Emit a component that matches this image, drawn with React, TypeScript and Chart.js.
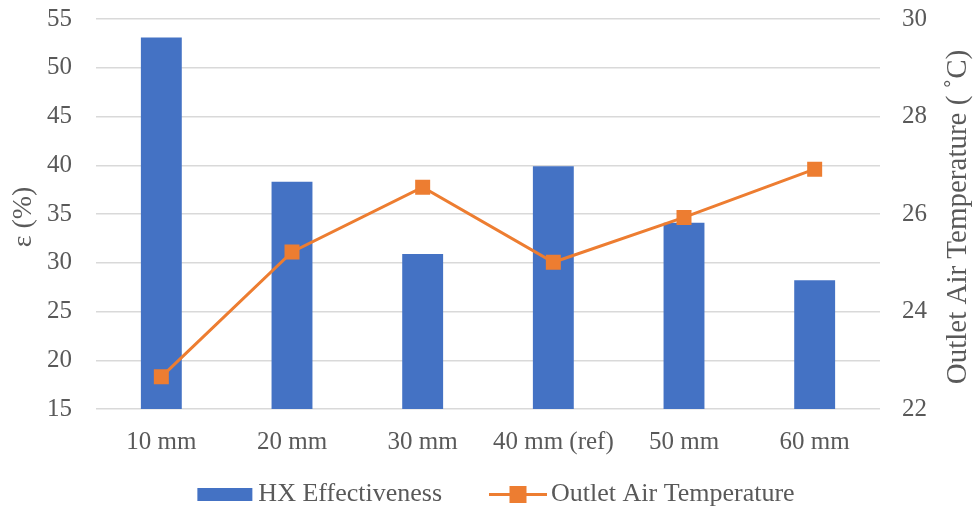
import React, { useEffect, useRef } from "react";
import { Chart, registerables } from "chart.js";

Chart.register(...registerables);

const categories = ["10 mm", "20 mm", "30 mm", "40 mm (ref)", "50 mm", "60 mm"];
const effectiveness = [53.1, 38.3, 30.9, 39.9, 34.1, 28.2];
const outletTemp = [22.66, 25.22, 26.55, 25.01, 25.93, 26.92];
const leftTicks = [15, 20, 25, 30, 35, 40, 45, 50, 55];
const rightTicks = [22, 24, 26, 28, 30];

const BLUE = "#4472C4";
const ORANGE = "#ED7D31";
const TEXT = "#595959";
const GRID = "#D9D9D9";
const FONT = "'Liberation Serif', 'Times New Roman', serif";
const FS = 25;
const TITLE_FS = 28;
const LEG_FS = 26;

const customPlugin = {
  id: "customDecor",
  afterDraw(chart: any) {
    const ctx = chart.ctx;
    const area = chart.chartArea;
    const cy = (area.top + area.bottom) / 2;
    ctx.save();
    ctx.fillStyle = TEXT;
    ctx.font = `${TITLE_FS}px ${FONT}`;
    ctx.textAlign = "center";
    ctx.textBaseline = "middle";
    // left title
    ctx.save();
    ctx.translate(24, cy + 3);
    ctx.rotate(-Math.PI / 2);
    ctx.fillText("ε (%)", 0, 0);
    ctx.restore();
    // right title
    ctx.save();
    ctx.font = `${TITLE_FS + 1}px ${FONT}`;
    ctx.translate(958, 217);
    ctx.rotate(-Math.PI / 2);
    ctx.fillText("Outlet Air Temperature ( ˚C)", 0, 0);
    ctx.restore();

    // legend
    ctx.font = `${LEG_FS}px ${FONT}`;
    const t1 = "HX Effectiveness";
    const t2 = "Outlet Air Temperature";
    const w1 = ctx.measureText(t1).width;
    const w2 = ctx.measureText(t2).width;
    const sym1 = 55;
    const sym2 = 58;
    const total = sym1 + 6 + w1 + 47 + sym2 + 4 + w2;
    let x = 496 - total / 2;
    const ly = 494.5;
    ctx.fillStyle = BLUE;
    ctx.fillRect(x, ly - 6.5, sym1, 13);
    x += sym1 + 6;
    ctx.fillStyle = TEXT;
    ctx.textAlign = "left";
    ctx.fillText(t1, x, ly);
    x += w1 + 47;
    ctx.strokeStyle = ORANGE;
    ctx.lineWidth = 3;
    ctx.beginPath();
    ctx.moveTo(x, ly);
    ctx.lineTo(x + sym2, ly);
    ctx.stroke();
    ctx.fillStyle = ORANGE;
    ctx.fillRect(x + sym2 / 2 - 8.5, ly - 8.5, 17, 17);
    x += sym2 + 4;
    ctx.fillStyle = TEXT;
    ctx.fillText(t2, x, ly);
    ctx.restore();
  },
};

function noPad(scale: any) {
  scale.paddingTop = 0;
  scale.paddingBottom = 0;
}

export default function App() {
  const ref = useRef<HTMLCanvasElement>(null);
  useEffect(() => {
    if (!ref.current) return;
    const chart = new Chart(ref.current, {
      type: "bar",
      data: {
        labels: categories,
        datasets: [
          {
            type: "line",
            label: "Outlet Air Temperature",
            data: outletTemp,
            yAxisID: "y1",
            borderColor: ORANGE,
            backgroundColor: ORANGE,
            borderWidth: 3,
            pointStyle: "rect",
            pointRadius: 10.6,
            pointBorderWidth: 0,
            pointBackgroundColor: ORANGE,
            order: 0,
          } as any,
          {
            type: "bar",
            label: "HX Effectiveness",
            data: effectiveness,
            yAxisID: "y",
            backgroundColor: BLUE,
            categoryPercentage: 1,
            barPercentage: 0.313,
            order: 1,
          },
        ],
      },
      options: {
        animation: false,
        responsive: false,
        layout: { padding: { top: 19, left: 0, right: 0, bottom: 0 } },
        plugins: {
          legend: { display: false },
          tooltip: { enabled: false },
        },
        scales: {
          x: {
            grid: { display: false, drawTicks: false },
            border: { display: false },
            ticks: {
              color: TEXT,
              font: { family: FONT, size: FS },
              padding: 18,
              maxRotation: 0,
            },
            afterFit(scale: any) {
              scale.height = 105;
            },
          },
          y: {
            position: "left",
            min: 15,
            max: 55,
            afterBuildTicks(scale: any) {
              scale.ticks = leftTicks.map((v) => ({ value: v }));
            },
            grid: { color: GRID, lineWidth: 1.5, drawTicks: false },
            border: { display: false },
            ticks: {
              color: TEXT,
              font: { family: FONT, size: FS },
              padding: 24,
            },
            afterFit(scale: any) {
              scale.width = 96;
              noPad(scale);
            },
          },
          y1: {
            position: "right",
            min: 22,
            max: 30,
            afterBuildTicks(scale: any) {
              scale.ticks = rightTicks.map((v) => ({ value: v }));
            },
            grid: { display: false, drawTicks: false },
            border: { display: false },
            ticks: {
              color: TEXT,
              font: { family: FONT, size: FS },
              padding: 22,
            },
            afterFit(scale: any) {
              scale.width = 96;
              noPad(scale);
            },
          },
        },
      },
      plugins: [customPlugin],
    });
    return () => chart.destroy();
  }, []);
  return (
    <div style={{ position: "fixed", left: 0, top: 0, width: 976, height: 514, background: "#fff" }}>
      <canvas ref={ref} width={976} height={514} style={{ width: 976, height: 514 }} />
    </div>
  );
}
